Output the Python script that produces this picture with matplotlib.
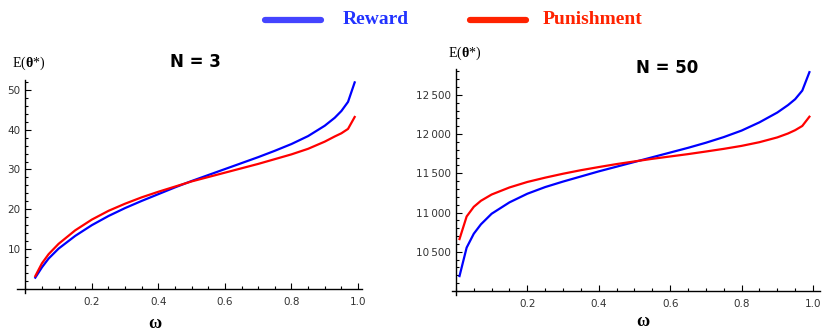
import matplotlib
matplotlib.use('Agg')
import matplotlib.pyplot as plt
from matplotlib.ticker import MultipleLocator, FuncFormatter, FixedLocator

plt.rcParams['mathtext.fontset'] = 'custom'
plt.rcParams['mathtext.rm'] = 'Liberation Serif'
plt.rcParams['mathtext.bf'] = 'Liberation Serif:bold'

# N = 3
w3 = [0.03, 0.05, 0.07, 0.1, 0.15, 0.2, 0.25, 0.3, 0.35, 0.4, 0.45, 0.5, 0.55, 0.6,
      0.65, 0.7, 0.75, 0.8, 0.85, 0.9, 0.93, 0.95, 0.97, 0.99]
reward3 = [2.8, 5.4, 7.6, 10.1, 13.3, 16.0, 18.3, 20.3, 22.1, 23.8, 25.5, 27.1, 28.6, 30.1,
           31.6, 33.1, 34.7, 36.4, 38.4, 41.0, 43.0, 44.7, 47.0, 51.9]
punish3 = [3.2, 6.4, 8.7, 11.3, 14.7, 17.4, 19.6, 21.4, 23.0, 24.4, 25.7, 27.0, 28.1, 29.2,
           30.3, 31.4, 32.6, 33.8, 35.2, 37.0, 38.3, 39.1, 40.2, 43.2]

# N = 50
w50 = [0.01, 0.03, 0.05, 0.07, 0.1, 0.15, 0.2, 0.25, 0.3, 0.35, 0.4, 0.45, 0.5, 0.55, 0.6,
       0.65, 0.7, 0.75, 0.8, 0.85, 0.9, 0.93, 0.95, 0.97, 0.99]
reward50 = [10190, 10553, 10730, 10850, 10985, 11130, 11240, 11325, 11395, 11460, 11525,
            11585, 11645, 11705, 11765, 11825, 11890, 11962, 12045, 12150, 12275, 12370,
            12445, 12555, 12790]
punish50 = [10662, 10950, 11073, 11150, 11230, 11320, 11390, 11445, 11495, 11540, 11580,
            11618, 11652, 11685, 11715, 11745, 11778, 11812, 11850, 11897, 11958, 12008,
            12050, 12104, 12222]

xticks = [0.2, 0.4, 0.6, 0.8, 1.0]
yticks3 = [10, 20, 30, 40, 50]
yticks50 = [10500, 11000, 11500, 12000, 12500]

BLUE = '#0000ff'
RED = '#ff0000'
W, H = 823, 333

fig = plt.figure(figsize=(8.23, 3.33), dpi=100)


def make_axes(px_left, px_right, px_bottom, px_top):
    return fig.add_axes([px_left / W, (H - px_bottom) / H,
                         (px_right - px_left) / W, (px_bottom - px_top) / H])


def style(ax, yticks, ycross, fmt):
    for s in ['top', 'right']:
        ax.spines[s].set_visible(False)
    ax.spines['left'].set_position(('data', 0))
    ax.spines['bottom'].set_position(('data', ycross))
    for s in ['left', 'bottom']:
        ax.spines[s].set_linewidth(1.0)
    ax.xaxis.set_major_locator(FixedLocator(xticks))
    ax.xaxis.set_minor_locator(MultipleLocator(0.05))
    ax.yaxis.set_major_locator(FixedLocator(yticks))
    ax.xaxis.set_major_formatter(FuncFormatter(lambda v, p: '%.1f' % v))
    ax.yaxis.set_major_formatter(FuncFormatter(fmt))
    ax.tick_params(which='both', direction='in', colors='black', labelcolor='#333333',
                   labelsize=7.5, width=0.8)
    ax.tick_params(which='major', length=4)
    ax.tick_params(which='minor', length=2)
    ax.tick_params(axis='x', pad=6)


# left panel
ax1 = make_axes(17, 362, 292.75, 80)
ax1.plot(w3, reward3, color=BLUE, lw=1.6)
ax1.plot(w3, punish3, color=RED, lw=1.6)
ax1.set_xlim(-0.025, 1.012)
ax1.set_ylim(-1.0, 52.5)
ax1.yaxis.set_minor_locator(MultipleLocator(2))
style(ax1, yticks3, 0, lambda v, p: '%d' % v)

# right panel
ax2 = make_axes(452, 820, 295, 69)
ax2.plot(w50, reward50, color=BLUE, lw=1.6)
ax2.plot(w50, punish50, color=RED, lw=1.6)
ax2.set_xlim(-0.011, 1.0196)
ax2.set_ylim(9949, 12830)
ax2.yaxis.set_minor_locator(MultipleLocator(100))
style(ax2, yticks50, 10000, lambda v, p: '%d\u2009%03d' % (int(v) // 1000, int(v) % 1000))

# titles and axis labels
fig.text(195 / W, 1 - 62 / H, 'N = 3', ha='center', va='center', fontsize=12,
         fontweight='bold', family='DejaVu Sans')
fig.text(667 / W, 1 - 68 / H, 'N = 50', ha='center', va='center', fontsize=12,
         fontweight='bold', family='DejaVu Sans')
ylab = r'$\mathrm{E(}\mathbf{\theta}{*}\mathrm{)}$'
fig.text(29 / W, 1 - 63 / H, ylab, ha='center', va='center', fontsize=10)
fig.text(465 / W, 1 - 53 / H, ylab, ha='center', va='center', fontsize=10)
fig.text(155 / W, 1 - 323 / H, '\u03c9', ha='center', va='center', fontsize=13,
         fontweight='bold', family='Liberation Serif')
fig.text(643 / W, 1 - 322 / H, '\u03c9', ha='center', va='center', fontsize=13,
         fontweight='bold', family='Liberation Serif')

# legend
fig.add_artist(plt.Line2D([265 / W, 321 / W], [1 - 20 / H, 1 - 20 / H], color='#4444ff',
                          lw=4.5, solid_capstyle='round'))
fig.text(343 / W, 1 - 19 / H, 'Reward', ha='left', va='center', fontsize=14,
         fontweight='bold', family='Liberation Serif', color='#2233ff')
fig.add_artist(plt.Line2D([470 / W, 526 / W], [1 - 20 / H, 1 - 20 / H], color='#ff2200',
                          lw=4.5, solid_capstyle='round'))
fig.text(543 / W, 1 - 19 / H, 'Punishment', ha='left', va='center', fontsize=14,
         fontweight='bold', family='Liberation Serif', color='#ff2200')

fig.savefig('out.png', dpi=100)
